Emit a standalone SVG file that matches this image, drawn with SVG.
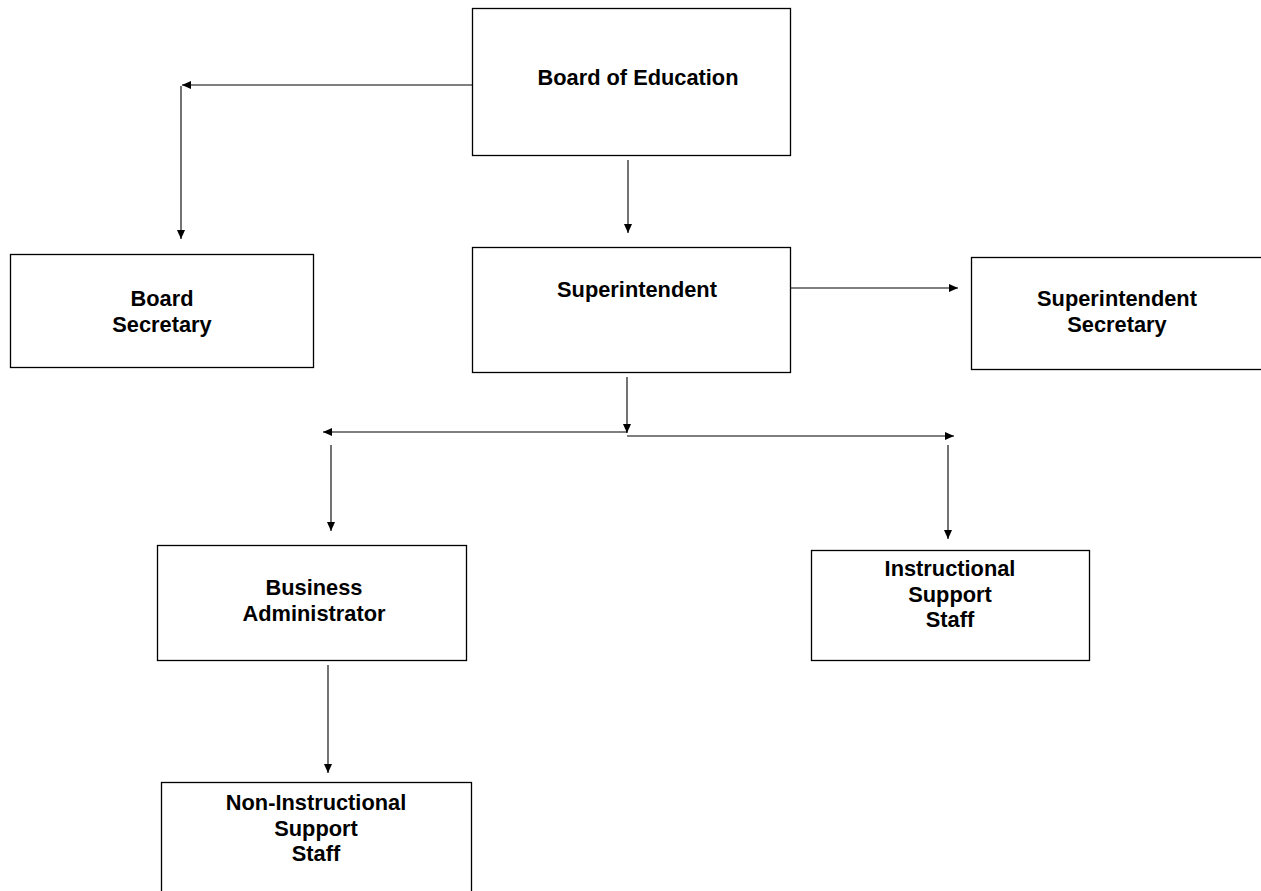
<svg xmlns="http://www.w3.org/2000/svg" width="1261" height="891" viewBox="0 0 1261 891">
<style>
.box{fill:#fff;stroke:#000;stroke-width:1.3}
.lbl{font-family:"Liberation Sans",Arial,sans-serif;font-weight:bold;font-size:21.8px;fill:#000;text-anchor:middle}
.con{fill:none;stroke:#000;stroke-width:1.1}
</style>
<defs>
<marker id="ah" markerUnits="userSpaceOnUse" markerWidth="10" markerHeight="9" refX="9" refY="4" orient="auto">
<path d="M0,0 L9,4 L0,8 z" fill="#000"/>
</marker>
</defs>
<rect width="1261" height="891" fill="#fff"/>
<g id="connectors">
<path class="con" d="M472,85 H182" marker-end="url(#ah)"/>
<path class="con" d="M181,86 V239" marker-end="url(#ah)"/>
<path class="con" d="M628,160 V233" marker-end="url(#ah)"/>
<path class="con" d="M791,288 H958" marker-end="url(#ah)"/>
<path class="con" d="M627,377 V433" marker-end="url(#ah)"/>
<path class="con" d="M627,432 H323" marker-end="url(#ah)"/>
<path class="con" d="M627,436 H954" marker-end="url(#ah)"/>
<path class="con" d="M331,445 V531" marker-end="url(#ah)"/>
<path class="con" d="M948,445 V539" marker-end="url(#ah)"/>
<path class="con" d="M328,665 V773" marker-end="url(#ah)"/>
</g>
<g id="board-of-education">
<rect class="box" x="472.5" y="8.5" width="318" height="147"/>
<text class="lbl" x="638" y="85">Board of Education</text>
</g>
<g id="board-secretary">
<rect class="box" x="10.5" y="254.5" width="303" height="113"/>
<text class="lbl" x="162" y="306">Board</text>
<text class="lbl" x="162" y="332">Secretary</text>
</g>
<g id="superintendent">
<rect class="box" x="472.5" y="247.5" width="318" height="125"/>
<text class="lbl" x="637" y="297">Superintendent</text>
</g>
<g id="superintendent-secretary">
<rect class="box" x="971.5" y="257.5" width="300" height="112"/>
<text class="lbl" x="1117" y="306">Superintendent</text>
<text class="lbl" x="1117" y="332">Secretary</text>
</g>
<g id="business-administrator">
<rect class="box" x="157.5" y="545.5" width="309" height="115"/>
<text class="lbl" x="314" y="595">Business</text>
<text class="lbl" x="314" y="621">Administrator</text>
</g>
<g id="instructional-support-staff">
<rect class="box" x="811.5" y="550.5" width="278" height="110"/>
<text class="lbl" x="950" y="576">Instructional</text>
<text class="lbl" x="950" y="602">Support</text>
<text class="lbl" x="950" y="627">Staff</text>
</g>
<g id="non-instructional-support-staff">
<rect class="box" x="161.5" y="782.5" width="310" height="120"/>
<text class="lbl" x="316" y="810">Non-Instructional</text>
<text class="lbl" x="316" y="836">Support</text>
<text class="lbl" x="316" y="861">Staff</text>
</g>
</svg>
